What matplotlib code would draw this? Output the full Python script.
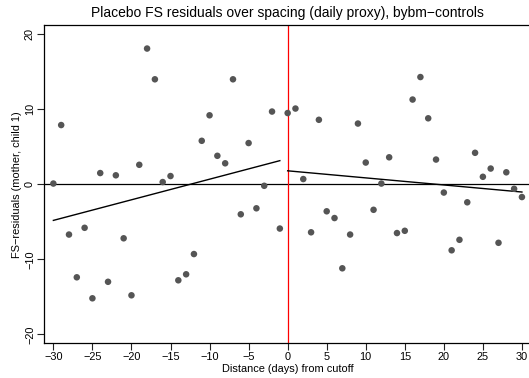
import numpy as np
import matplotlib
matplotlib.use("Agg")
import matplotlib.pyplot as plt

plt.rcParams['font.family'] = ['Liberation Sans', 'DejaVu Sans']

# Data
left_x = list(range(-30, 0))
left_y = [0.1, 7.9, -6.7, -12.4, -5.8, -15.2, 1.5, -13.0, 1.2, -7.2,
          -14.8, 2.6, 18.1, 14.0, 0.3, 1.1, -12.8, -12.0, -9.3, 5.8,
          9.2, 3.8, 2.8, 14.0, -4.0, 5.5, -3.2, -0.2, 9.7, -5.9]
right_x = list(range(0, 31))
right_y = [9.5, 10.1, 0.7, -6.4, 8.6, -3.6, -4.5, -11.2, -6.7, 8.1,
           2.9, -3.4, 0.1, 3.6, -6.5, -6.2, 11.3, 14.3, 8.8, 3.3,
           -1.1, -8.8, -7.4, -2.4, 4.2, 1.0, 2.1, -7.8, 1.6, -0.6, -1.7]
x_ticks = [-30, -25, -20, -15, -10, -5, 0, 5, 10, 15, 20, 25, 30]
y_ticks = [-20, -10, 0, 10, 20]

W, H = 529, 378
fig = plt.figure(figsize=(W/100, H/100), dpi=100)
x0, x1 = 44, 531.3
y0, y1 = 25.3, 343.3
ax = fig.add_axes([x0/W, 1 - y1/H, (x1 - x0)/W, (y1 - y0)/H])
ax.set_xlim(-31.2, 31.2)
ax.set_ylim(-21.2, 21.2)

ax.axhline(0, color='black', lw=0.9, zorder=1)
ax.axvline(0, color='#ff0000', lw=0.9, zorder=1)

ax.scatter(left_x + right_x, left_y + right_y, s=22, color='#555555',
           edgecolors='none', zorder=3)

for xs, ys in ((left_x, left_y), (right_x, right_y)):
    b, a = np.polyfit(xs, ys, 1)
    xx = np.array([min(xs), max(xs)])
    ax.plot(xx, a + b * xx, color='black', lw=1.0, zorder=2)

ax.set_xticks(x_ticks)
ax.set_yticks(y_ticks)
ax.set_xticklabels([f"{t}".replace('-', '\u2212') for t in x_ticks])
ax.set_yticklabels([f"{t}".replace('-', '\u2212') for t in y_ticks],
                   rotation=90, va='center')
ax.tick_params(axis='both', direction='out', length=5, width=0.8,
               labelsize=7.9, pad=1.5, colors='#222222', labelcolor='black')
for s in ax.spines.values():
    s.set_linewidth(0.9)
    s.set_color('black')

ax.set_xlabel("Distance (days) from cutoff", fontsize=7.9, labelpad=1.5)
ax.set_ylabel("FS\u2212residuals (mother, child 1)", fontsize=7.9, labelpad=2)
fig.text(287.7/W, 1 - 13.5/H,
         "Placebo FS residuals over spacing (daily proxy), bybm\u2212controls",
         ha='center', va='center', fontsize=10)

fig.savefig("out.png", dpi=100)
